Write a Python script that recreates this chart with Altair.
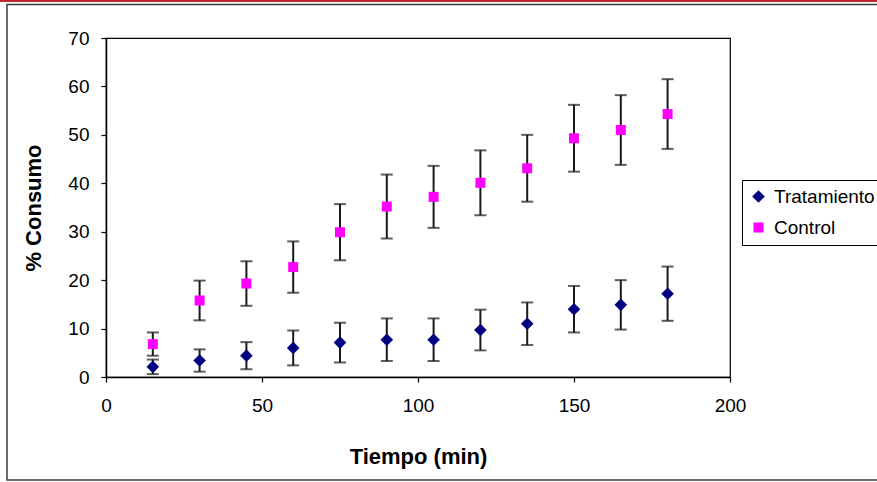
import altair as alt
import pandas as pd

times = [15, 30, 45, 60, 75, 90, 105, 120, 135, 150, 165, 180]
trat = [2.1, 3.4, 4.4, 6.0, 7.1, 7.7, 7.7, 9.7, 11.0, 14.0, 14.9, 17.2]
trat_err = [1.5, 2.3, 2.8, 3.6, 4.1, 4.4, 4.4, 4.2, 4.4, 4.8, 5.1, 5.6]
ctrl = [6.8, 15.8, 19.3, 22.7, 29.9, 35.2, 37.2, 40.1, 43.1, 49.3, 51.0, 54.3]
ctrl_err = [2.4, 4.1, 4.6, 5.3, 5.8, 6.6, 6.4, 6.7, 6.9, 6.9, 7.2, 7.2]
series = ["Tratamiento", "Control"]
x_ticks = [0, 50, 100, 150, 200]
y_ticks = [0, 10, 20, 30, 40, 50, 60, 70]

rows = []
for name, vals, errs in [(series[0], trat, trat_err), (series[1], ctrl, ctrl_err)]:
    for t, v, e in zip(times, vals, errs):
        rows.append({"t": t, "v": v, "lo": v - e, "hi": v + e, "serie": name})
df = pd.DataFrame(rows)

FONT = "Liberation Sans"

xscale = alt.Scale(domain=[0, 200], nice=False)
yscale = alt.Scale(domain=[0, 70], nice=False)

xenc = alt.X("t:Q", scale=xscale, axis=alt.Axis(
    values=x_ticks, title="Tiempo (min)", grid=False, tickSize=5, labelPadding=14,
    labelFlush=False,
    labelFontSize=19, labelFont=FONT, labelColor="black", domainColor="black",
    tickColor="black", domainWidth=1.5, tickWidth=1.2,
    titleFont=FONT, titleFontSize=22, titleFontWeight="bold", titleColor="black",
    titleX=312, titleY=86, titleBaseline="alphabetic", titleAlign="center"))

yenc = alt.Y("v:Q", scale=yscale, axis=alt.Axis(
    values=y_ticks, title="% Consumo", grid=False, tickSize=5, labelPadding=12,
    labelFlush=False,
    labelFontSize=19, labelFont=FONT, labelColor="black", domainColor="black",
    tickColor="black", domainWidth=1.5, tickWidth=1.2,
    titleFont=FONT, titleFontSize=22, titleFontWeight="bold", titleColor="black",
    titleX=-66, titleY=169.5, titleBaseline="alphabetic", titleAlign="center", titleAngle=270))

base = alt.Chart(df)

rules = base.mark_rule(color="#1a1a1a", strokeWidth=2).encode(
    x=alt.X("t:Q", scale=xscale), y=alt.Y("lo:Q", scale=yscale), y2="hi:Q")
cap_lo = base.mark_tick(color="#1a1a1a", orient="horizontal", size=12, thickness=2).encode(
    x=alt.X("t:Q", scale=xscale), y=alt.Y("lo:Q", scale=yscale))
cap_hi = base.mark_tick(color="#1a1a1a", orient="horizontal", size=12, thickness=2).encode(
    x=alt.X("t:Q", scale=xscale), y=alt.Y("hi:Q", scale=yscale))

leg = dict(title=None, orient="none", legendX=636, legendY=142,
           strokeColor="black", fillColor="white", padding=7,
           rowPadding=11, labelFont=FONT, labelFontSize=19,
           labelColor="black", symbolSize=70, labelOffset=6,
           labelLimit=400, symbolStrokeWidth=0)

points = base.mark_point(filled=True, opacity=1).encode(
    x=xenc, y=yenc,
    color=alt.Color("serie:N", scale=alt.Scale(domain=series, range=["#000080", "#FF00FF"]),
                    legend=alt.Legend(**leg)),
    shape=alt.Shape("serie:N", scale=alt.Scale(domain=series, range=["diamond", "square"]),
                    legend=alt.Legend(**leg)),
    size=alt.Size("serie:N", scale=alt.Scale(domain=series, range=[160, 100]), legend=None),
)

deco = pd.DataFrame({"k": [0]})
frame = alt.Chart(deco).mark_rect(fillOpacity=0, stroke="#3c3c3c", strokeWidth=1.5, clip=False).encode(
    x=alt.value(-99), x2=alt.value(790), y=alt.value(-33.5), y2=alt.value(442))
redline = alt.Chart(deco).mark_rule(color="#C0282D", strokeWidth=3, clip=False).encode(
    x=alt.value(-106), x2=alt.value(771), y=alt.value(-37.5))

chart = alt.layer(frame, redline, rules, cap_lo, cap_hi, points).properties(
    width=624, height=339,
    autosize=alt.AutoSizeParams(type="none"),
    padding={"left": 106, "top": 38, "right": 147, "bottom": 105},
    background="white",
).configure_view(stroke="black", strokeWidth=1.2)

chart.save("out.html", embed_options={"renderer": "svg", "actions": False})
